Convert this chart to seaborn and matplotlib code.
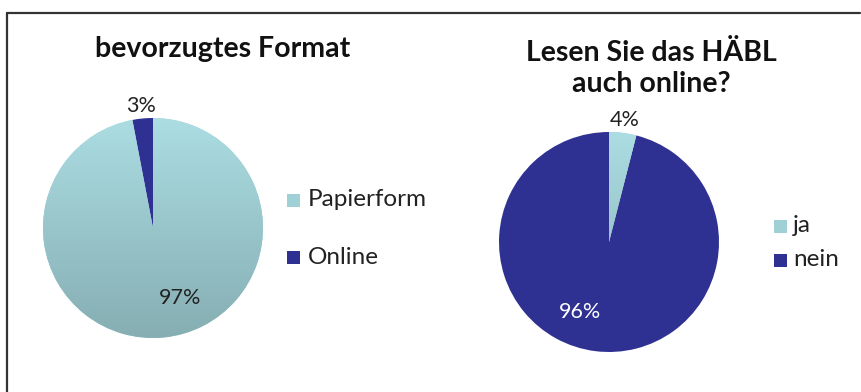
import numpy as np
import matplotlib
matplotlib.use("Agg")
import matplotlib.pyplot as plt
import seaborn as sns
from matplotlib.lines import Line2D
from matplotlib.patches import Rectangle
from matplotlib.colors import LinearSegmentedColormap

sns.set_theme(style="white")
plt.rcParams['font.family'] = ['Lato', 'DejaVu Sans']

# ---- data ----
title_left = "bevorzugtes Format"
cats_left = ["Papierform", "Online"]
vals_left = [97, 3]

title_right_lines = ["Lesen Sie das HÄBL", "auch online?"]
cats_right = ["ja", "nein"]
vals_right = [4, 96]

LIGHT = "#9fd0d6"
DARK = "#2f3192"
palette = sns.color_palette([LIGHT, DARK])

W, H = 861, 392
fig = plt.figure(figsize=(W / 100, H / 100), dpi=100)
fig.patch.set_facecolor("white")

R = 110  # pie radius in px


def px_ax(cx, cy, r):
    return fig.add_axes([(cx - r) / W, (H - cy - r) / H, 2 * r / W, 2 * r / H])


grad = LinearSegmentedColormap.from_list("g", ["#86aeb3", "#abdde2"])


def draw_pie(ax, vals, colors, big_pos, big_color, light_index):
    wedges, _ = ax.pie(vals, colors=colors, startangle=90, counterclock=False,
                       radius=1, wedgeprops=dict(linewidth=0))
    lw = wedges[light_index]
    img = np.linspace(0, 1, 256).reshape(-1, 1)
    im = ax.imshow(img, extent=[-1, 1, -1, 1], origin="lower", cmap=grad,
                   aspect="auto", zorder=lw.get_zorder() + 0.1)
    im.set_clip_path(lw)
    ax.set_xlim(-1, 1)
    ax.set_ylim(-1, 1)
    ax.set_aspect("equal")
    ax.axis("off")
    total = sum(vals)
    for w, v in zip(wedges, vals):
        txt = f"{round(100 * v / total)}%"
        if v / total < 0.5:
            ang = np.deg2rad((w.theta1 + w.theta2) / 2)
            x, y = 1.12 * np.cos(ang), 1.115 * np.sin(ang)
            col = "#222222"
        else:
            x, y = big_pos
            col = big_color
        ax.text(x, y, txt, ha="center", va="center", fontsize=15.5,
                color=col, clip_on=False, zorder=10)
    return wedges


axL = px_ax(153, 228, R)
draw_pie(axL, vals_left, [palette[0], palette[1]], (0.245, -0.636), "#222222", 0)

axR = px_ax(609, 242, R)
draw_pie(axR, vals_right, [palette[0], palette[1]], (-0.264, -0.636), "white", 0)

# titles
fig.text(223 / W, 1 - 57 / H, title_left, ha="center", va="baseline",
         fontsize=20.5, fontweight="bold", color="#111111")
for line, yb in zip(title_right_lines, [61, 92]):
    fig.text(651 / W, 1 - yb / H, line, ha="center", va="baseline",
             fontsize=20.5, fontweight="bold", color="#111111")


def legend_item(x, y, color, label, gap):
    s = 13
    fig.patches.append(Rectangle((x / W, (H - y - s / 2) / H), s / W, s / H,
                                 transform=fig.transFigure, facecolor=color,
                                 edgecolor="none"))
    fig.text((x + s + gap) / W, 1 - y / H, label, ha="left", va="center",
             fontsize=17.5, color="#222222")


legend_item(287, 200, LIGHT, cats_left[0], 8)
legend_item(287, 257, DARK, cats_left[1], 8)
legend_item(774, 226, LIGHT, cats_right[0], 6)
legend_item(774, 260, DARK, cats_right[1], 6)

# border
fig.lines.append(Line2D([7 / W, 7 / W], [0, 1 - 13 / H], transform=fig.transFigure,
                        color="#333333", linewidth=1.6))
fig.lines.append(Line2D([7 / W, 860 / W], [1 - 13 / H, 1 - 13 / H],
                        transform=fig.transFigure, color="#333333", linewidth=1.6))

fig.savefig("out.png", dpi=100)
